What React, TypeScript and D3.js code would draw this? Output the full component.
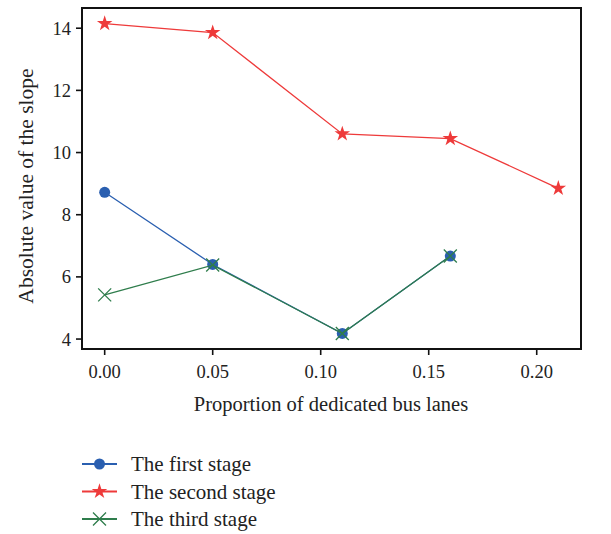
import React from "react";
import * as d3 from "d3";

const proportions = [0, 0.05, 0.11, 0.16, 0.21];
const firstStage = [8.72, 6.4, 4.18, 6.67];
const secondStage = [14.15, 13.86, 10.6, 10.45, 8.85];
const thirdStage = [5.42, 6.38, 4.18, 6.67];
const xTicks = [0, 0.05, 0.1, 0.15, 0.2];
const yTicks = [4, 6, 8, 10, 12, 14];

const width = 611;
const height = 534;
const margin = { left: 82, right: 30, top: 8, bottom: 185 };
const font = "'Liberation Serif', 'DejaVu Serif', serif";

const series = [
  { name: "The first stage", values: firstStage, color: "#2a5fb0", marker: "circle" },
  { name: "The second stage", values: secondStage, color: "#ee3a3a", marker: "star" },
  { name: "The third stage", values: thirdStage, color: "#2f7d4c", marker: "cross" }
];

function Marker({ type, x, y, color }) {
  if (type === "circle") return <circle cx={x} cy={y} r={5.5} fill={color} />;
  if (type === "star") {
    const d = d3.symbol().type(d3.symbolStar).size(75)();
    return <path d={d} transform={`translate(${x},${y})`} fill={color} />;
  }
  const s = 6.5;
  return (
    <path
      d={`M${x - s},${y - s}L${x + s},${y + s}M${x - s},${y + s}L${x + s},${y - s}`}
      stroke={color}
      strokeWidth={1.3}
      fill="none"
    />
  );
}

export default function App() {
  const x = d3.scaleLinear().domain([-0.0105, 0.2205]).range([margin.left, width - margin.right]);
  const y = d3.scaleLinear().domain([3.68, 14.65]).range([height - margin.bottom, margin.top]);
  const line = d3
    .line<number>()
    .x((_, i) => x(proportions[i]))
    .y((d) => y(d));
  const bottom = height - margin.bottom;

  return (
    <svg width={width} height={height} style={{ position: "absolute", left: 0, top: 0 }}>
      <rect width={width} height={height} fill="#fff" />
      {series.map((s) => (
        <g key={s.name}>
          <path d={line(s.values)} fill="none" stroke={s.color} strokeWidth={1.3} />
          {s.values.map((v, i) => (
            <Marker key={i} type={s.marker} x={x(proportions[i])} y={y(v)} color={s.color} />
          ))}
        </g>
      ))}
      <rect
        x={margin.left}
        y={margin.top}
        width={width - margin.left - margin.right}
        height={bottom - margin.top}
        fill="none"
        stroke="#111"
        strokeWidth={2}
      />
      {xTicks.map((t) => (
        <g key={t} transform={`translate(${x(t)},${bottom})`}>
          <line y1={0} y2={6} stroke="#111" strokeWidth={1.6} />
          <text y={29} textAnchor="middle" fontFamily={font} fontSize={18.5} fill="#222">
            {t.toFixed(2)}
          </text>
        </g>
      ))}
      {yTicks.map((t) => (
        <g key={t} transform={`translate(${margin.left},${y(t)})`}>
          <line x1={0} x2={-6} stroke="#111" strokeWidth={1.6} />
          <text x={-11} dy="0.35em" textAnchor="end" fontFamily={font} fontSize={18.5} fill="#222">
            {t}
          </text>
        </g>
      ))}
      <text x={331} y={411} textAnchor="middle" fontFamily={font} fontSize={20.5} fill="#222">
        Proportion of dedicated bus lanes
      </text>
      <text
        transform={`translate(33,186) rotate(-90)`}
        textAnchor="middle"
        fontFamily={font}
        fontSize={21.5}
        fill="#222"
      >
        Absolute value of the slope
      </text>
      {series.map((s, i) => {
        const ly = 464 + i * 27.5;
        return (
          <g key={s.name}>
            <line x1={82} x2={117} y1={ly} y2={ly} stroke={s.color} strokeWidth={1.8} />
            <Marker type={s.marker} x={99.5} y={ly} color={s.color} />
            <text x={131} y={ly} dy="0.35em" fontFamily={font} fontSize={21} fill="#222">
              {s.name}
            </text>
          </g>
        );
      })}
    </svg>
  );
}
